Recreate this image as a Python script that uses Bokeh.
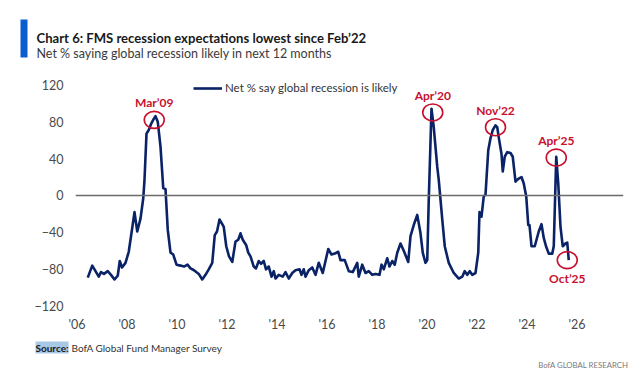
from bokeh.plotting import figure
from bokeh.layouts import column
from bokeh.models import (ColumnDataSource, Span, Legend, LegendItem, FixedTicker, Range1d)
from bokeh.core.properties import value
from bokeh.embed import file_html
from bokeh.resources import INLINE

# ---------------- data ----------------
dates = [2006.43, 2006.61, 2006.74, 2006.87, 2006.96, 2007.08, 2007.23, 2007.36, 2007.50, 2007.63,
         2007.71, 2007.80, 2007.94, 2008.07, 2008.21, 2008.30, 2008.41, 2008.54, 2008.65, 2008.70,
         2008.78, 2008.87, 2008.97, 2009.07, 2009.14, 2009.23, 2009.34, 2009.45, 2009.54, 2009.63,
         2009.74, 2009.85, 2009.98, 2010.14, 2010.28, 2010.42, 2010.54, 2010.68, 2010.87, 2011.01,
         2011.14, 2011.27, 2011.41, 2011.51, 2011.60, 2011.70, 2011.81, 2011.87, 2011.97, 2012.08,
         2012.21, 2012.34, 2012.45, 2012.54, 2012.63, 2012.77, 2012.85, 2012.94, 2013.07, 2013.16,
         2013.27, 2013.36, 2013.47, 2013.56, 2013.67, 2013.78, 2013.87, 2013.94, 2014.07, 2014.23,
         2014.34, 2014.47, 2014.61, 2014.74, 2014.90, 2014.98, 2015.07, 2015.14, 2015.27, 2015.41,
         2015.54, 2015.67, 2015.83, 2016.05, 2016.18, 2016.31, 2016.45, 2016.54, 2016.71, 2016.87,
         2017.03, 2017.21, 2017.27, 2017.41, 2017.54, 2017.67, 2017.81, 2017.94, 2018.10, 2018.18,
         2018.27, 2018.41, 2018.50, 2018.61, 2018.71, 2018.81, 2018.94, 2019.07, 2019.25, 2019.34,
         2019.47, 2019.61, 2019.74, 2019.83, 2019.94, 2020.01, 2020.07, 2020.18, 2020.27, 2020.41,
         2020.47, 2020.61, 2020.71, 2020.87, 2021.07, 2021.27, 2021.41, 2021.51, 2021.61, 2021.71,
         2021.81, 2021.94, 2022.05, 2022.10, 2022.18, 2022.27, 2022.34, 2022.45, 2022.54, 2022.63,
         2022.74, 2022.81, 2022.87, 2022.98, 2023.03, 2023.11, 2023.21, 2023.34, 2023.43, 2023.54,
         2023.65, 2023.78, 2023.87, 2023.97, 2024.05, 2024.10, 2024.18, 2024.31, 2024.47, 2024.58,
         2024.67, 2024.76, 2024.87, 2025.01, 2025.07, 2025.17, 2025.25, 2025.34, 2025.43, 2025.54,
         2025.61, 2025.67]
net_pct = [-89, -76, -82, -88, -83, -85, -82, -86, -91, -87,
           -71, -78, -73, -61, -35, -18, -39, -25, -3, 17,
           67, 71, 78, 83, 86, 80, 53, 8, 7, -37,
           -62, -64, -75, -76, -77, -75, -79, -81, -85, -91,
           -86, -80, -73, -43, -39, -26, -31, -34, -55, -66,
           -72, -50, -48, -41, -48, -54, -62, -66, -77, -79,
           -71, -74, -71, -80, -77, -88, -82, -90, -86, -88,
           -83, -90, -84, -81, -80, -86, -80, -88, -81, -78,
           -86, -73, -84, -58, -64, -63, -61, -70, -70, -82,
           -83, -73, -88, -75, -84, -82, -86, -85, -86, -75,
           -80, -68, -77, -71, -75, -62, -52, -60, -72, -44,
           -32, -21, -41, -62, -73, -70, -5, 94, 74, 31,
           17, -26, -55, -73, -84, -90, -88, -82, -86, -82,
           -86, -84, -62, -18, -23, -1, 1, 49, 62, 71,
           76, 74, 63, 45, 26, 42, 47, 46, 42, 15,
           18, 20, 13, -1, -32, -32, -55, -55, -39, -31,
           -46, -55, -63, -63, -55, 42, 13, -34, -55, -52,
           -51, -70]

ann_dates = [2009.09, 2020.23, 2022.74, 2025.17, 2025.61]
ann_vals = [82, 90, 74, 41, -70]
ann_labels = ["Mar\u201909", "Apr\u201920", "Nov\u201922", "Apr\u201925", "Oct\u201925"]

xtick_years = [2006, 2008, 2010, 2012, 2014, 2016, 2018, 2020, 2022, 2024, 2026]
xtick_labels = ["'06", "'08", "'10", "'12", "'14", "'16", "'18", "'20", "'22", "'24", "'26"]
ytick_vals = [-120, -80, -40, 0, 40, 80, 120]

title_text = "Chart 6: FMS recession expectations lowest since Feb\u201922"
subtitle_text = "Net % saying global recession likely in next 12 months"
legend_text = "Net % say global recession is likely"
source_bold = "Source:"
source_text = "BofA Global Fund Manager Survey"
brand_text = "BofA GLOBAL RESEARCH"

# ---------------- styling ----------------
FONT = "Lato"
NAVY = "#0a2266"
RED = "#c8102e"
W = 630
HEAD_H, MAIN_H, FOOT_H = 64, 270, 42


def blank(height):
    f = figure(width=W, height=height, output_backend="svg", toolbar_location=None,
               x_range=Range1d(0, W), y_range=Range1d(height, 0),
               x_axis_type=None, y_axis_type=None, min_border=0, frame_align=False)
    f.outline_line_color = None
    f.grid.visible = False
    f.background_fill_color = "white"
    f.border_fill_color = "white"
    return f


# ---- header ----
hd = blank(HEAD_H)
hd.quad(left=[20], right=[27], top=[19], bottom=[57], fill_color="#0a5ccf", line_color=None)
hd.text(x=[36], y=[37], text=[title_text], text_font=value(FONT), text_font_style="bold",
        text_font_size="13.1px", text_color="#1a1a1a", text_baseline="alphabetic")
hd.text(x=[36], y=[52.5], text=[subtitle_text], text_font=value(FONT),
        text_font_size="12.5px", text_color="#3a3a3a", text_baseline="alphabetic")

# ---- main chart ----
p = figure(width=W, height=MAIN_H, output_backend="svg", toolbar_location=None,
           x_range=Range1d(2005.94, 2027.86), y_range=Range1d(-127.9, 133.3),
           min_border_left=75, min_border_right=7, min_border_top=8, min_border_bottom=20,
           frame_align=False)
p.outline_line_color = None
p.grid.visible = False
p.background_fill_color = "white"
p.border_fill_color = "white"

for ax in (p.xaxis[0], p.yaxis[0]):
    ax.axis_line_color = None
    ax.major_tick_line_color = None
    ax.minor_tick_line_color = None
    ax.major_tick_out = 0
    ax.major_tick_in = 0
    ax.minor_tick_out = 0
    ax.minor_tick_in = 0
    ax.major_label_text_font = FONT
    ax.major_label_text_color = "#4a4a4a"
    ax.major_label_text_font_size = "12.5px"

p.xaxis[0].ticker = FixedTicker(ticks=xtick_years)
p.xaxis[0].major_label_overrides = {y: l for y, l in zip(xtick_years, xtick_labels)}
p.xaxis[0].major_label_standoff = 3
p.yaxis[0].ticker = FixedTicker(ticks=ytick_vals)
p.yaxis[0].major_label_standoff = 12

p.add_layout(Span(location=0, dimension="width", line_color="#6b6b6b", line_width=1.6))

src = ColumnDataSource(dict(x=dates, y=net_pct))
r = p.line("x", "y", source=src, line_color=NAVY, line_width=2.6, line_join="round")

asrc = ColumnDataSource(dict(x=ann_dates, y=ann_vals, t=ann_labels))
p.ellipse("x", "y", width=20, height=17, width_units="screen", height_units="screen",
          source=asrc, fill_alpha=0, line_color=RED, line_width=1.6)
up = ColumnDataSource(dict(x=ann_dates[:4], y=ann_vals[:4], t=ann_labels[:4]))
dn = ColumnDataSource(dict(x=ann_dates[4:], y=ann_vals[4:], t=ann_labels[4:]))
p.text("x", "y", text="t", source=up, y_offset=-17, text_align="center", text_baseline="middle",
       text_font=value(FONT), text_font_style="bold", text_font_size="12px", text_color=RED)
p.text("x", "y", text="t", source=dn, y_offset=18, text_align="center", text_baseline="middle",
       text_font=value(FONT), text_font_style="bold", text_font_size="12px", text_color=RED)

leg = Legend(items=[LegendItem(label=legend_text, renderers=[r])], location=(118, 219),
             padding=0, margin=0, border_line_color=None, background_fill_alpha=0,
             glyph_width=29, glyph_height=12, label_standoff=3,
             label_text_font=FONT, label_text_font_size="11.5px", label_text_color="#333333")
p.add_layout(leg, "center")

# ---- footer ----
ft = blank(FOOT_H)
ft.text(x=[35], y=[13], text=[source_bold], text_font=value(FONT), text_font_style="bold",
        text_font_size="10px", text_color="#1a1a1a", text_baseline="middle",
        background_fill_color="#a8c8e6", background_fill_alpha=1.0)
ft.text(x=[71], y=[13], text=[source_text], text_font=value(FONT),
        text_font_size="10px", text_color="#333333", text_baseline="middle")
ft.text(x=[628], y=[30], text=[brand_text], text_font=value(FONT),
        text_font_size="7.8px", text_color="#7a7a7a", text_baseline="middle", text_align="right")

layout = column(hd, p, ft, spacing=0)
open("out.html", "w").write(file_html(layout, INLINE))
